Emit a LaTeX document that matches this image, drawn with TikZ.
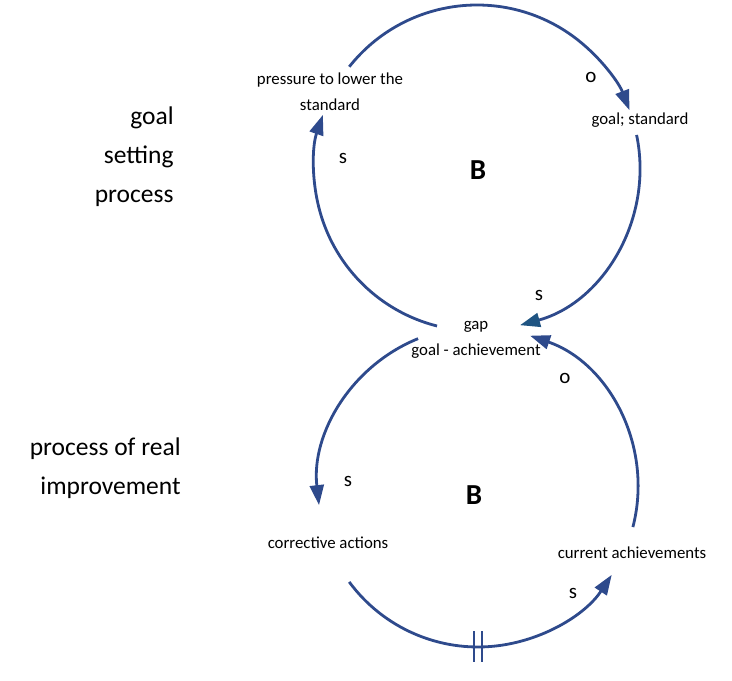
\documentclass[tikz,border=0pt]{standalone}
\usepackage{fontspec}
\setmainfont{Carlito}
\usepackage{tikz}
\usetikzlibrary{arrows.meta}
\usetikzlibrary{positioning}
\definecolor{loopblue}{HTML}{2E4A8C}
\definecolor{loopteal}{HTML}{1F5482}
\tikzset{my_loop/.style={x=1pt,y=1pt,line width=2.8pt,>={Triangle[length=20pt,width=14pt]}}}
\tikzset{my_link/.style={draw=loopblue,->}}
\tikzset{my_var/.style={align=center,font=\fontsize{16.8}{26}\selectfont,inner sep=0pt}}
\tikzset{my_title/.style={align=right,anchor=east,font=\fontsize{25.5}{39}\selectfont,inner sep=0pt}}
\tikzset{my_sign/.style={font=\fontsize{21}{24}\selectfont,inner sep=0pt}}
\tikzset{my_type/.style={font=\fontsize{29}{32}\selectfont\bfseries,inner sep=0pt}}

\begin{document}
\begin{tikzpicture}[my_loop]
    \useasboundingbox (0,0) rectangle (732,681);
    \coordinate (U) at (477,513);
    \coordinate (L) at (478,194);

    \node[my_var] (press) at (330,589) {pressure to lower the\\standard};
    \node[my_var] (goal) at (640,561) {goal; standard};
    \node[my_var] (gap) at (476,341) {gap\\goal - achievement};
    \node[my_var] (corr) at (328,138) {corrective actions};
    \node[my_var] (curr) at (632,128) {current achievements};

    \node[my_title] (goalproc) at (175,524) {goal\\setting\\process};
    \node[my_title] (realproc) at (182,213) {process of real\\improvement};

    \node[my_type] (b1) at (478,511) {B};
    \node[my_type] (b2) at (474,186) {B};

    \node[my_sign] (s1) at (591,604) {o};
    \node[my_sign] (s2) at (343,523) {s};
    \node[my_sign] (s3) at (539,386) {s};
    \node[my_sign] (s4) at (565,303) {o};
    \node[my_sign] (s5) at (348,200) {s};
    \node[my_sign] (s6) at (573,88) {s};

    % goal setting loop
    \draw[my_link] (U) ++(141.6:163) arc[start angle=141.6, end angle=20.8, radius=163];
    \draw[draw=loopblue,-{Triangle[length=20pt,width=14pt,color=loopteal]}]
        (U) ++(11.7:163) arc[start angle=11.7, end angle=-74.7, radius=163];
    \draw[my_link] (U) ++(255.8:163) arc[start angle=255.8, end angle=161, radius=163];

    % real improvement loop
    \draw[my_link] (L) ++(112:160) arc[start angle=112, end angle=186.5, radius=160];
    \draw[my_link] (L) ++(216.4:160) arc[start angle=216.4, end angle=326.7, radius=160];
    \draw[my_link] (L) ++(-14.5:160) arc[start angle=-14.5, end angle=71, radius=160];

    % delay
    \draw[loopblue] (L) ++(-4,-160) ++(0,-15) -- ++(0,31);
    \draw[loopblue] (L) ++(4,-160) ++(0,-15) -- ++(0,31);
\end{tikzpicture}
\end{document}
